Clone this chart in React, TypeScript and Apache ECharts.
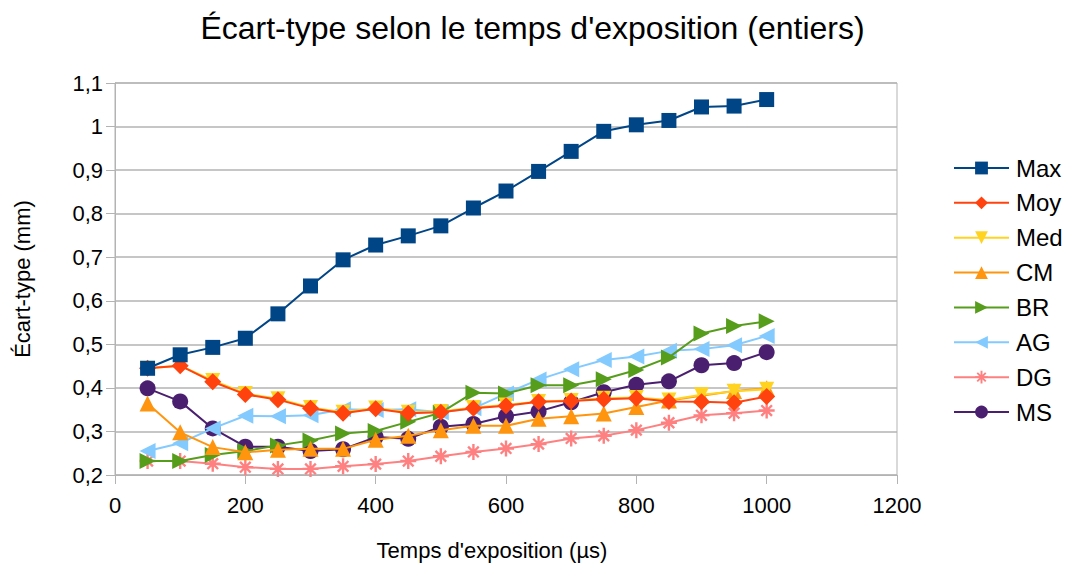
import React, { useEffect, useRef } from "react";
import * as echarts from "echarts";

const xValues = [50, 100, 150, 200, 250, 300, 350, 400, 450, 500, 550, 600, 650, 700, 750, 800, 850, 900, 950, 1000];
const seriesNames = ["Max", "Moy", "Med", "CM", "BR", "AG", "DG", "MS"];
const maxVals = [0.445, 0.476, 0.493, 0.514, 0.570, 0.634, 0.694, 0.728, 0.749, 0.772, 0.813, 0.852, 0.897, 0.943, 0.989, 1.004, 1.014, 1.045, 1.047, 1.062];
const moyVals = [0.445, 0.451, 0.414, 0.385, 0.373, 0.353, 0.342, 0.352, 0.342, 0.344, 0.353, 0.359, 0.368, 0.370, 0.374, 0.376, 0.369, 0.368, 0.366, 0.380];
const medVals = [0.445, 0.451, 0.417, 0.387, 0.375, 0.355, 0.344, 0.354, 0.344, 0.346, 0.355, 0.361, 0.369, 0.371, 0.376, 0.378, 0.372, 0.384, 0.392, 0.397];
const cmVals = [0.364, 0.298, 0.264, 0.252, 0.258, 0.260, 0.260, 0.281, 0.290, 0.303, 0.313, 0.313, 0.329, 0.335, 0.341, 0.356, 0.371, 0.382, 0.393, 0.399];
const brVals = [0.232, 0.232, 0.246, 0.255, 0.268, 0.279, 0.295, 0.301, 0.322, 0.343, 0.389, 0.387, 0.406, 0.406, 0.420, 0.441, 0.470, 0.525, 0.542, 0.553];
const agVals = [0.255, 0.273, 0.307, 0.336, 0.335, 0.337, 0.351, 0.349, 0.351, 0.344, 0.353, 0.387, 0.419, 0.443, 0.464, 0.472, 0.485, 0.489, 0.498, 0.519];
const dgVals = [0.232, 0.232, 0.226, 0.218, 0.214, 0.214, 0.220, 0.225, 0.232, 0.243, 0.253, 0.261, 0.271, 0.284, 0.290, 0.303, 0.320, 0.337, 0.342, 0.348];
const msVals = [0.399, 0.369, 0.307, 0.265, 0.265, 0.255, 0.259, 0.287, 0.283, 0.311, 0.317, 0.335, 0.346, 0.367, 0.390, 0.407, 0.415, 0.452, 0.457, 0.482];
const yTicks = [0.2, 0.3, 0.4, 0.5, 0.6, 0.7, 0.8, 0.9, 1.0, 1.1];

const allVals = [maxVals, moyVals, medVals, cmVals, brVals, agVals, dgVals, msVals];
const colors = ["#004586", "#ff420e", "#ffd320", "#ff950e", "#579d1c", "#83caff", "#ff8080", "#4b1f6f"];
const asterisk =
  "path://M8.5,0H11.5V20H8.5Z M0,8.5H20V11.5H0Z M15.6,2.3L17.7,4.4L4.4,17.7L2.3,15.6Z M2.3,4.4L4.4,2.3L17.7,15.6L15.6,17.7Z";
const symbols = ["rect", "diamond", "triangle", "triangle", "triangle", "triangle", asterisk, "circle"];
const rotations = [0, 0, 180, 0, -90, 90, 0, 0];
const sizes = [15, 17, 15, 16, 16, 16, 16, 16];

const FONT = "'Liberation Sans', Arial, sans-serif";

export default function App() {
  const ref = useRef<HTMLDivElement>(null);
  useEffect(() => {
    document.body.style.margin = "0";
    if (!ref.current) return;
    const chart = echarts.init(ref.current, undefined, { renderer: "svg" });
    const series = seriesNames.map((name, i) => ({
      name,
      type: "line",
      data: xValues.map((x, j) => [x, allVals[i][j]]),
      symbol: symbols[i],
      symbolSize: sizes[i],
      symbolRotate: rotations[i],
      showAllSymbol: true,
      z: 20 - i,
      lineStyle: { color: colors[i], width: 2 },
      itemStyle: { color: colors[i], borderWidth: 0 },
      emphasis: { disabled: true },
    }));
    chart.setOption({
      animation: false,
      textStyle: { fontFamily: FONT },
      title: {
        text: "Écart-type selon le temps d'exposition (entiers)",
        left: "center",
        top: 7,
        textStyle: { fontSize: 32, fontWeight: "normal", color: "#000", fontFamily: FONT },
      },
      legend: {
        orient: "vertical",
        left: 953,
        top: 156,
        padding: 0,
        itemWidth: 55,
        itemHeight: 16,
        itemGap: 10.86,
        textStyle: { fontSize: 24, lineHeight: 24, color: "#000", fontFamily: FONT, padding: [0, 0, 0, 2] },
        data: seriesNames,
      },
      grid: {
        left: 115,
        right: 168,
        top: 83,
        bottom: 88,
        show: true,
        borderColor: "#b3b3b3",
        borderWidth: 1,
      },
      xAxis: {
        type: "value",
        min: 0,
        max: 1200,
        interval: 200,
        name: "Temps d'exposition (µs)",
        nameLocation: "middle",
        nameGap: 64,
        nameTextStyle: { fontSize: 22, color: "#000", fontFamily: FONT, padding: [0, 28, 0, 0] },
        axisLine: { show: true, lineStyle: { color: "#b3b3b3", width: 1 } },
        axisTick: { show: true, length: 9, lineStyle: { color: "#b3b3b3", width: 1 } },
        axisLabel: {
          fontSize: 22,
          color: "#000",
          margin: 19,
          fontFamily: FONT,
          formatter: (v: number) => String(v),
        },
        splitLine: { show: false },
      },
      yAxis: {
        type: "value",
        min: 0.2,
        max: 1.1,
        interval: 0.1,
        name: "Écart-type (mm)",
        nameLocation: "middle",
        nameGap: 82,
        nameTextStyle: { fontSize: 22, color: "#000", fontFamily: FONT },
        axisLine: { show: true, lineStyle: { color: "#b3b3b3", width: 1 } },
        axisTick: { show: true, length: 9, lineStyle: { color: "#b3b3b3", width: 1 } },
        axisLabel: {
          fontSize: 22,
          color: "#000",
          margin: 12,
          fontFamily: FONT,
          formatter: (v: number) => {
            const r = Math.round(v * 10) / 10;
            const t = yTicks.find((k) => Math.abs(k - r) < 1e-6);
            return String(t !== undefined ? t : r).replace(".", ",");
          },
        },
        splitLine: { show: true, lineStyle: { color: "#b3b3b3", width: 1.5 } },
      },
      series,
    });
    return () => chart.dispose();
  }, []);
  return <div ref={ref} style={{ width: 1065, height: 566 }} />;
}
